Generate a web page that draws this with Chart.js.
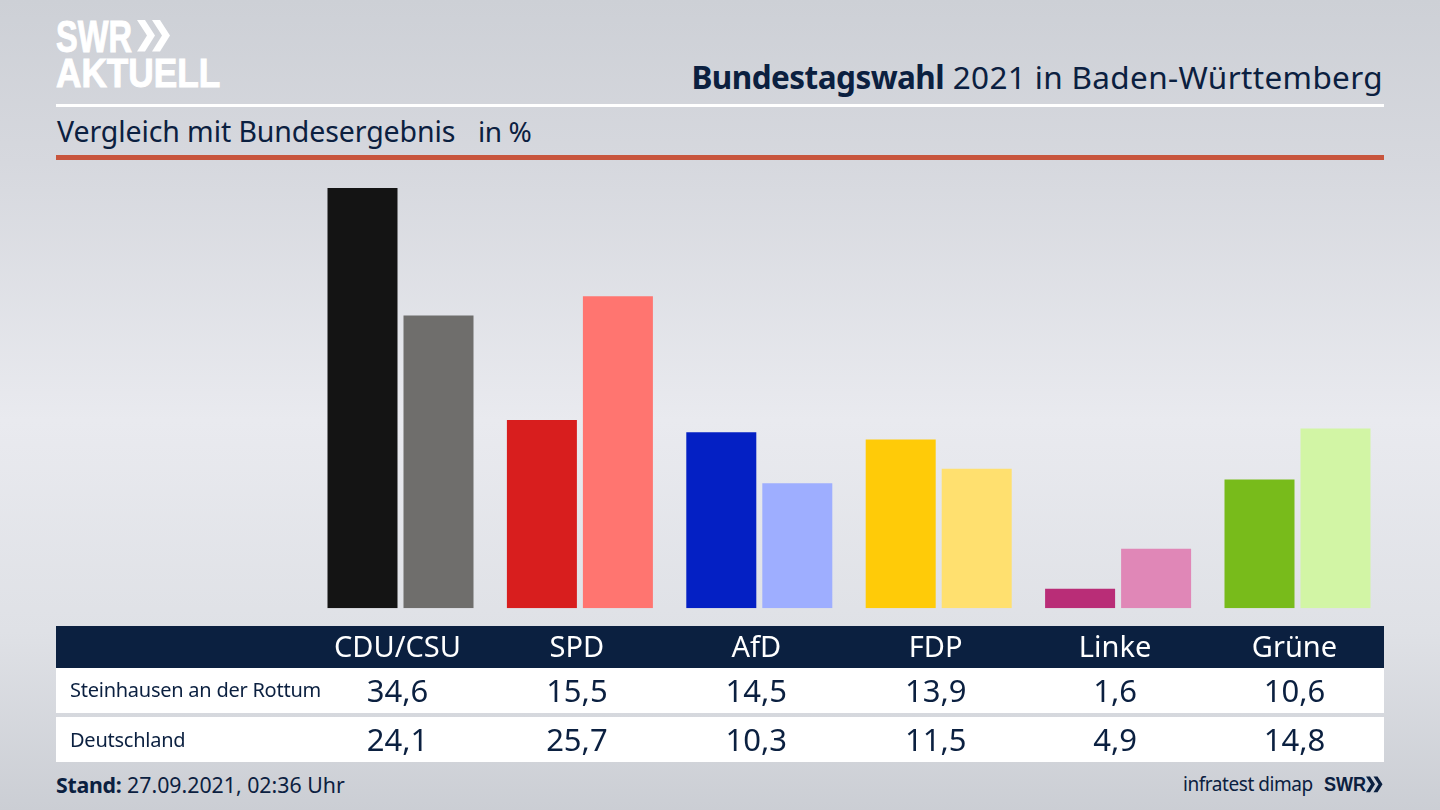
<!DOCTYPE html>
<html lang="de">
<head>
<meta charset="utf-8">
<title>Bundestagswahl 2021 in Baden-Württemberg</title>
<script src="https://cdn.jsdelivr.net/npm/chart.js@4"></script>
<style>
  html, body { margin: 0; padding: 0; }
  body {
    width: 1440px; height: 810px; overflow: hidden; position: relative;
    background: linear-gradient(180deg, #cdd0d6 0%, #d6d8de 20%, #e9eaef 52%, #dfe1e6 78%, #cbced4 100%);
    font-family: "Noto Sans", sans-serif; color: #0b2040;
  }
  #myChart { position: absolute; left: 0; top: 0; z-index: 2; }
  .abs { position: absolute; white-space: nowrap; line-height: 1; }
  .cell { transform: translateX(-50%); z-index: 3; }
  .band { position: absolute; left: 56px; width: 1328px; }
  .logo { color: #fff; font-family: "Liberation Sans", sans-serif; font-weight: 700; transform-origin: left top; -webkit-text-stroke: 1px #fff; }
</style>
</head>
<body>
<div class="abs logo" style="left:56px;top:15px;font-size:44px;transform:scaleX(.74)">SWR</div>
<svg class="abs" style="left:137px;top:19px" width="34" height="34" viewBox="0 0 34 34">
  <path fill="#fff" d="M0 1h8l10 15.500-10 16h-8l10-16z M15 1h8l10 15.500-10 16h-8l10-16z"/>
</svg>
<div class="abs logo" style="left:56px;top:53px;font-size:40px;transform:scaleX(.88)">AKTUELL</div>

<div class="abs" id="title" style="right:57px;top:61px;font-size:31.500px;letter-spacing:.35px"><b style="letter-spacing:-.55px">Bundestagswahl</b> 2021 in Baden-Württemberg</div>
<div class="band" style="top:104px;height:3px;background:#fff"></div>
<div class="abs" style="left:57px;top:117px;font-size:28.500px;letter-spacing:-.1px">Vergleich mit Bundesergebnis</div>
<div class="abs" style="left:478px;top:117px;font-size:28px;letter-spacing:-.4px">in %</div>
<div class="band" style="top:155px;height:5px;background:#c8553d"></div>

<div class="band" style="top:626px;height:42px;background:#0b2040"></div>
<div class="band" style="top:668px;height:45px;background:#fff"></div>
<div class="band" style="top:717px;height:45px;background:#fff"></div>

<div class="abs" id="regionA" style="left:70px;top:680px;font-size:20px;letter-spacing:-.25px;z-index:3"></div>
<div class="abs" id="regionB" style="left:70px;top:730px;font-size:20px;letter-spacing:-.25px;z-index:3"></div>

<div class="abs" style="left:56px;top:774px;font-size:21.300px"><b style="letter-spacing:-.25px">Stand:</b> 27.09.2021, 02:36 Uhr</div>
<div class="abs" style="left:1183px;top:775px;font-size:19px;letter-spacing:-.45px">infratest dimap</div>
<div class="abs" style="left:1324px;top:773px;font-size:21px;font-family:'Liberation Sans',sans-serif;font-weight:700;transform-origin:left top;transform:scaleX(.86)">SWR</div>
<svg class="abs" style="left:1365px;top:776px" width="19" height="17" viewBox="0 0 34 34">
  <path fill="#0b2040" d="M0 1h8l10 15.500-10 16h-8l10-16z M15 1h8l10 15.500-10 16h-8l10-16z"/>
</svg>

<canvas id="myChart" width="1440" height="810"></canvas>

<script>
const categories = ["CDU/CSU", "SPD", "AfD", "FDP", "Linke", "Grüne"];
const regions = ["Steinhausen an der Rottum", "Deutschland"];
const steinhausen = [34.6, 15.5, 14.5, 13.9, 1.6, 10.6];
const deutschland = [24.1, 25.7, 10.3, 11.5, 4.9, 14.8];
const darkColors = ["#141414", "#d81e1e", "#0420c4", "#ffcb08", "#b92d77", "#78bb1b"];
const lightColors = ["#6f6e6c", "#ff7570", "#9eaeff", "#ffe06f", "#e087b7", "#d2f5a5"];

const ctx = document.getElementById("myChart");

const chart = new Chart(ctx, {
  type: "bar",
  data: {
    labels: categories,
    datasets: [
      { label: regions[0], data: steinhausen, backgroundColor: darkColors },
      { label: regions[1], data: deutschland, backgroundColor: lightColors },
    ],
  },
  options: {
    responsive: false,
    animation: false,
    devicePixelRatio: 1,
    categoryPercentage: 0.8473,
    barPercentage: 0.921,
    layout: { padding: { left: 310.8, right: 52.8, top: 171.1, bottom: 201.7 } },
    plugins: { legend: { display: false }, tooltip: { enabled: false } },
    scales: {
      x: { display: false },
      y: { display: false, min: 0, max: 36 },
    },
  },
});

function addCell(text, x, top, size, color) {
  const el = document.createElement("div");
  el.className = "abs cell";
  el.textContent = text;
  el.style.left = x + "px";
  el.style.top = top + "px";
  el.style.fontSize = size + "px";
  el.style.color = color;
  document.body.appendChild(el);
}

function formatValue(v) {
  return v.toFixed(1).replace(".", ",");
}

document.getElementById("regionA").textContent = regions[0];
document.getElementById("regionB").textContent = regions[1];

// table columns sit a touch left of the bar group centre
categories.forEach((name, i) => {
  const x = chart.scales.x.getPixelForValue(i) - 3;
  addCell(name, x, 631, 29, "#ffffff");
  addCell(formatValue(steinhausen[i]), x, 675, 31, "#0b2040");
  addCell(formatValue(deutschland[i]), x, 724, 31, "#0b2040");
});
</script>
</body>
</html>
